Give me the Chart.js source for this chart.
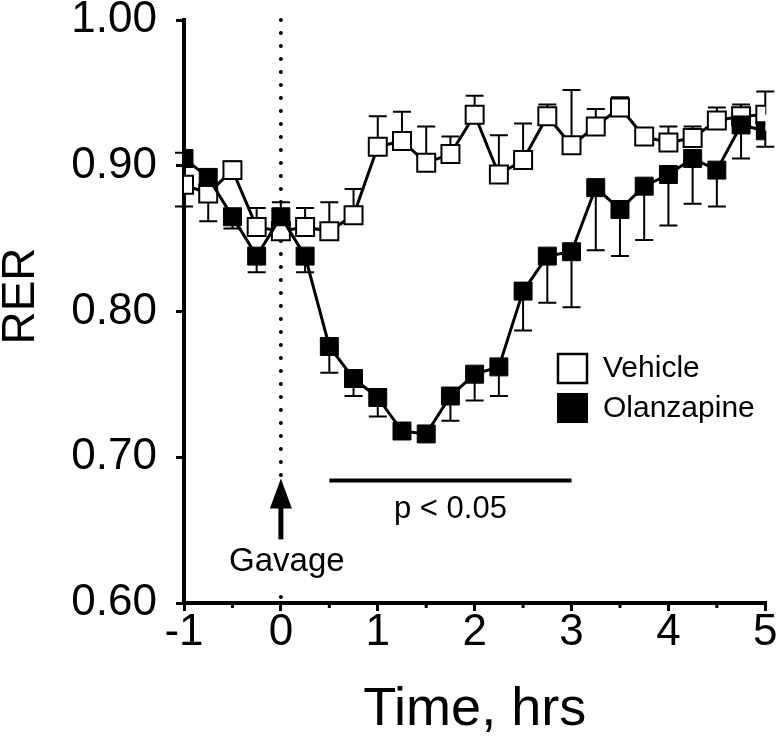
<!DOCTYPE html>
<html>
<head>
<meta charset="utf-8">
<script src="https://cdn.jsdelivr.net/npm/chart.js@4.4.1/dist/chart.umd.min.js"></script>
<style>
  body { margin: 0; background: #fff; }
  #wrap { width: 780px; height: 744px; }
</style>
</head>
<body>
<div id="wrap"><canvas id="rer" width="780" height="744"></canvas></div>
<script>
// time points (hrs)
const times = [-1, -0.75, -0.5, -0.25, 0, 0.25, 0.5, 0.75, 1, 1.25, 1.5, 1.75, 2,
  2.25, 2.5, 2.75, 3, 3.25, 3.5, 3.75, 4, 4.25, 4.5, 4.75, 5];

const vehicle = [0.887, 0.881, 0.897, 0.858, 0.855, 0.858, 0.855, 0.866, 0.913, 0.917, 0.902, 0.908, 0.935,
  0.894, 0.904, 0.934, 0.914, 0.927, 0.940, 0.920, 0.916, 0.919, 0.931, 0.934, 0.935];
// SEM, sign = direction the bar is drawn (+ up, - down)
const vehicleErr = [-0.015, -0.019, 0.006, 0.013, -0.004, 0.013, 0.020, 0.018, 0.021, 0.020, 0.025, 0.012, 0.013,
  0.027, 0.025, 0.008, 0.038, 0.012, 0.007, 0.003, 0.011, 0.008, 0.009, 0.008, 0.016];

const olanzapine = [0.905, 0.892, 0.865, 0.838, 0.865, 0.838, 0.776, 0.754, 0.741, 0.718, 0.716, 0.742, 0.757,
  0.762, 0.814, 0.838, 0.841, 0.885, 0.870, 0.886, 0.894, 0.905, 0.897, 0.928, 0.924];
const olanzapineErr = [0.004, 0.004, -0.008, -0.011, 0.010, -0.011, -0.018, -0.012, -0.013, -0.003, -0.003, -0.017, -0.018,
  -0.020, -0.027, -0.032, -0.038, -0.043, -0.032, -0.037, -0.035, -0.031, -0.025, -0.023, -0.011];

const minorTicks = [-0.5, 0.5, 1.5, 2.5, 3.5, 4.5];
const gavageTime = 0;
const arrowTip = 0.6855;
const sigRange = [0.5, 3];   // p < 0.05 bar
const sigLevel = 0.684;

const FONT = "'Liberation Sans', Arial, sans-serif";

const toPoints = (ys) => ys.map((y, i) => ({ x: times[i], y: y }));

// error bars, gavage marker, significance bar
const extras = {
  id: 'extras',
  beforeDatasetsDraw(chart) {
    const { ctx, scales: { x, y }, chartArea } = chart;
    const gx = x.getPixelForValue(gavageTime);
    ctx.save();
    // dotted line at gavage, stops at the arrow
    ctx.strokeStyle = '#000';
    ctx.fillStyle = '#000';
    ctx.lineWidth = 4;
    ctx.lineCap = 'round';
    ctx.setLineDash([0, 13]);
    ctx.beginPath();
    ctx.moveTo(gx, chartArea.top);
    ctx.lineTo(gx, y.getPixelForValue(arrowTip) - 2);
    ctx.stroke();
    ctx.setLineDash([]);
    ctx.lineCap = 'butt';
    ctx.beginPath();
    ctx.arc(gx, chartArea.bottom - 6, 2, 0, Math.PI * 2);
    ctx.fill();

    // error bars
    const sets = [[vehicle, vehicleErr], [olanzapine, olanzapineErr]];
    ctx.lineWidth = 2;
    sets.forEach(([vals, errs]) => {
      vals.forEach((v, i) => {
        const px = x.getPixelForValue(times[i]);
        const p1 = y.getPixelForValue(v);
        const p2 = y.getPixelForValue(v + errs[i]);
        ctx.beginPath();
        ctx.moveTo(px, p1);
        ctx.lineTo(px, p2);
        ctx.moveTo(px - 9, p2);
        ctx.lineTo(px + 9, p2);
        ctx.stroke();
      });
    });
    ctx.restore();
  },
  afterDraw(chart) {
    const { ctx, scales: { x, y }, chartArea } = chart;
    ctx.save();
    ctx.strokeStyle = '#000';
    ctx.fillStyle = '#000';

    // minor ticks on x
    ctx.lineWidth = 3;
    minorTicks.forEach(t => {
      const px = x.getPixelForValue(t);
      ctx.beginPath();
      ctx.moveTo(px, chartArea.bottom);
      ctx.lineTo(px, chartArea.bottom + 5);
      ctx.stroke();
    });

    // gavage arrow
    const ax = x.getPixelForValue(gavageTime);
    const tip = y.getPixelForValue(arrowTip);
    ctx.lineWidth = 5;
    ctx.beginPath();
    ctx.moveTo(ax, tip + 25);
    ctx.lineTo(ax, tip + 61);
    ctx.stroke();
    ctx.beginPath();
    ctx.moveTo(ax, tip);
    ctx.lineTo(ax - 11, tip + 30);
    ctx.lineTo(ax + 11, tip + 30);
    ctx.closePath();
    ctx.fill();

    ctx.font = '33px ' + FONT;
    ctx.textAlign = 'center';
    ctx.textBaseline = 'alphabetic';
    ctx.fillText('Gavage', ax + 6, tip + 93);

    // significance bar
    const sy = y.getPixelForValue(sigLevel);
    ctx.lineWidth = 4;
    ctx.beginPath();
    ctx.moveTo(x.getPixelForValue(sigRange[0]), sy);
    ctx.lineTo(x.getPixelForValue(sigRange[1]), sy);
    ctx.stroke();
    ctx.font = '31px ' + FONT;
    ctx.fillText('p < 0.05', (x.getPixelForValue(sigRange[0]) + x.getPixelForValue(sigRange[1])) / 2, sy + 37);

    // legend
    ctx.textAlign = 'left';
    ctx.textBaseline = 'middle';
    ctx.font = '30px ' + FONT;
    const lx = 558, ly = 354;
    ctx.lineWidth = 2.5;
    ctx.fillStyle = '#fff';
    ctx.fillRect(lx, ly, 29, 29);
    ctx.strokeRect(lx, ly, 29, 29);
    ctx.fillStyle = '#000';
    ctx.fillRect(lx - 1, ly + 39, 31, 30);
    ctx.fillText('Vehicle', 603, ly + 15);
    ctx.fillText('Olanzapine', 603, ly + 55);

    // y axis title
    ctx.translate(21, 296);
    ctx.rotate(-Math.PI / 2);
    ctx.textAlign = 'center';
    ctx.font = '46px ' + FONT;
    ctx.fillText('RER', 0, 0);
    ctx.restore();
  }
};

new Chart(document.getElementById('rer'), {
  type: 'line',
  data: {
    datasets: [
      {
        label: 'Vehicle',
        data: toPoints(vehicle),
        order: 1,
        borderColor: '#000',
        borderWidth: 3,
        pointStyle: 'rect',
        pointRadius: 12.7,
        pointBackgroundColor: '#fff',
        pointBorderColor: '#000',
        pointBorderWidth: 2,
        tension: 0
      },
      {
        label: 'Olanzapine',
        data: toPoints(olanzapine),
        order: 0,
        borderColor: '#000',
        borderWidth: 3,
        pointStyle: 'rect',
        pointRadius: 12.7,
        pointBackgroundColor: '#000',
        pointBorderColor: '#000',
        pointBorderWidth: 1,
        tension: 0
      }
    ]
  },
  options: {
    responsive: false,
    animation: false,
    layout: { padding: { top: 20, right: 14, left: 0, bottom: 0 } },
    plugins: { legend: { display: false }, tooltip: { enabled: false } },
    scales: {
      x: {
        type: 'linear',
        min: -1,
        max: 5,
        afterFit: (s) => { s.height = 141; s.paddingLeft = 0; s.paddingRight = 0; },
        grid: { drawOnChartArea: false, drawTicks: true, tickLength: 8, color: '#000', lineWidth: 3 },
        border: { display: true, color: '#000', width: 4 },
        ticks: {
          stepSize: 1,
          autoSkip: false,
          maxRotation: 0,
          padding: 0,
          color: '#000',
          font: { family: FONT, size: 44, lineHeight: 1 }
        },
        title: {
          display: true,
          text: 'Time, hrs',
          color: '#000',
          font: { family: FONT, size: 54, lineHeight: 1 },
          padding: { top: 0, bottom: 7 }
        }
      },
      y: {
        min: 0.6,
        max: 1.0,
        afterFit: (s) => { s.width = 184; s.paddingTop = 0; s.paddingBottom = 0; },
        grid: { drawOnChartArea: false, drawTicks: true, tickLength: 8, color: '#000', lineWidth: 3 },
        border: { display: true, color: '#000', width: 4 },
        ticks: {
          stepSize: 0.1,
          padding: 19,
          color: '#000',
          font: { family: FONT, size: 44, lineHeight: 1 },
          callback: (v) => v.toFixed(2)
        }
      }
    }
  },
  plugins: [extras]
});
</script>
</body>
</html>
